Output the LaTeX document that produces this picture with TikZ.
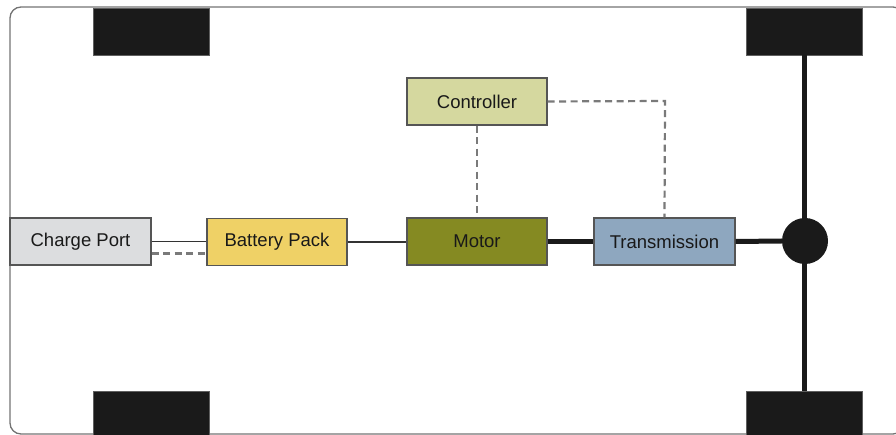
\documentclass[tikz,border=0pt]{standalone}
\usepackage{fontspec}
\setmainfont{Liberation Sans}
\definecolor{portfill}{HTML}{DCDDDF}
\definecolor{battfill}{HTML}{EFD166}
\definecolor{motorfill}{HTML}{858A22}
\definecolor{transfill}{HTML}{8EA7BF}
\definecolor{ctrlfill}{HTML}{D5D89F}
\definecolor{wheelc}{HTML}{1A1A1A}
\definecolor{edgec}{HTML}{555555}
\definecolor{dashc}{HTML}{7A7A7A}
\tikzset{
  comp/.style={draw=edgec, line width=1.2pt, minimum width=140pt, minimum height=47pt, inner sep=0pt, font=\fontsize{18.5}{20}\selectfont, text=black!90},
  wheel/.style={fill=wheelc, draw=wheelc!70, minimum width=116pt, minimum height=47pt, inner sep=0pt},
  thinlink/.style={draw=black!80, line width=1.3pt},
  dashlink/.style={draw=dashc, line width=2.2pt, dash pattern=on 7pt off 4.5pt},
  thicklink/.style={draw=wheelc, line width=5pt},
}
\begin{document}
\begin{tikzpicture}[x=1pt,y=-1pt]
\useasboundingbox (0,0) rectangle (896,435);
\draw[draw=black!55, line width=1.3pt, rounded corners=11pt] (10,7) rectangle (904,434);
% wheels
\node[wheel] (wtl) at (151,31.5) {};
\node[wheel] (wtr) at (804.5,31.5) {};
\node[wheel, minimum height=44pt] (wbl) at (151,413) {};
\node[wheel, minimum height=44pt] (wbr) at (804.5,413) {};
% axle and differential
\node[circle, fill=wheelc, minimum size=46pt, inner sep=0pt] (diff) at (805,241) {};
\draw[thicklink] (wtr.south) -- (wbr.north);
% components
\node[comp, fill=portfill, minimum width=141pt] (port) at (80.5,241.5) {Charge Port};
\node[comp, fill=battfill] (batt) at (277,242) {Battery Pack};
\node[comp, fill=motorfill] (motor) at (477,241.5) {Motor};
\node[comp, fill=transfill, minimum width=141pt] (trans) at (664.5,241.5) {Transmission};
\node[comp, fill=ctrlfill] (ctrl) at (477,101.5) {Controller};
% links
\draw[thinlink] (port.east) -- (port.east -| batt.west);
\draw[dashlink] ([yshift=-12pt]port.east) -- ([yshift=-12pt]port.east -| batt.west);
\draw[thinlink] (batt.east) -- (batt.east -| motor.west);
\draw[thicklink] (motor.east) -- (trans.west);
\draw[thicklink] (trans.east) -- (diff.west);
\draw[dashlink] (ctrl.south) -- (motor.north);
\coordinate (bend) at (665,101);
\draw[dashlink] (ctrl.east) -- (bend) -- (trans.north);
\end{tikzpicture}
\end{document}
